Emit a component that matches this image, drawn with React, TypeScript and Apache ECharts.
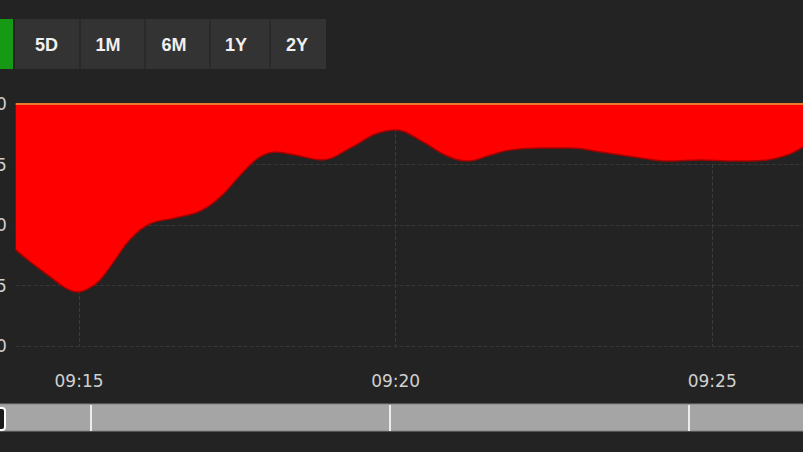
import React, { useEffect, useRef } from "react";
import * as echarts from "echarts";

// intraday samples (time, price)
const times = [
  "09:14:00", "09:14:14", "09:14:33", "09:14:47", "09:14:59", "09:15:10", "09:15:20",
  "09:15:34", "09:15:48", "09:16:07", "09:16:31", "09:16:55", "09:17:14", "09:17:33",
  "09:17:50", "09:18:06", "09:18:25", "09:18:50", "09:19:17", "09:19:41", "09:20:00",
  "09:20:23", "09:20:47", "09:21:08", "09:21:30", "09:21:49", "09:22:17", "09:22:46",
  "09:23:14", "09:23:52", "09:24:17", "09:24:49", "09:25:20", "09:25:52", "09:26:11",
  "09:26:26",
];
const prices = [
  0.397, 0.347, 0.285, 0.240, 0.223, 0.240, 0.273,
  0.355, 0.438, 0.504, 0.529, 0.558, 0.616, 0.707,
  0.777, 0.802, 0.789, 0.769, 0.818, 0.876, 0.893,
  0.851, 0.789, 0.764, 0.789, 0.810, 0.818, 0.818,
  0.802, 0.777, 0.764, 0.769, 0.764, 0.769, 0.789,
  0.822,
];
const prevClose = 1.0;
const yMin = 0;
const yMax = 1.0;
const yStep = 0.25;
const xStart = "09:14:00";
const xEnd = "09:26:26";
const xTickLabels = ["09:15", "09:20", "09:25"];
const rangeButtons = ["5D", "1M", "6M", "1Y", "2Y"];

const toMin = (t: string) => {
  const [h, m, s] = t.split(":").map(Number);
  return (h - 9) * 60 + m + (s || 0) / 60;
};

export default function App() {
  const ref = useRef<HTMLDivElement>(null);
  useEffect(() => {
    if (!ref.current) return;
    const chart = echarts.init(ref.current, undefined, { renderer: "svg" });
    const xTicks = xTickLabels.map(toMin);
    const btnCenters = [46.5, 108, 174, 236, 297];
    const seps = [80, 145, 210, 270];
    const navLines = [91, 390, 689];
    const graphic: any[] = [
      { type: "rect", shape: { x: 0, y: 19, width: 13, height: 50 }, style: { fill: "#169a16" } },
      { type: "rect", shape: { x: 15, y: 19, width: 311, height: 50 }, style: { fill: "#333333" } },
      ...seps.map((x) => ({
        type: "line",
        shape: { x1: x, y1: 19, x2: x, y2: 69 },
        style: { stroke: "#2a2a2a", lineWidth: 2 },
      })),
      ...rangeButtons.map((b, i) => ({
        type: "text",
        x: btnCenters[i],
        y: 45,
        style: {
          text: b,
          fill: "#f0f0f0",
          font: "bold 18px 'Liberation Sans', Arial, sans-serif",
          textAlign: "center",
          textVerticalAlign: "middle",
        },
      })),
      { type: "rect", shape: { x: -1, y: 404, width: 805, height: 27 }, style: { fill: "#a5a5a5", stroke: "#858585", lineWidth: 1 } },
      ...navLines.map((x) => ({
        type: "line",
        shape: { x1: x, y1: 405, x2: x, y2: 431 },
        style: { stroke: "#ececec", lineWidth: 2 },
      })),
      { type: "rect", shape: { x: -5, y: 408, width: 10, height: 22, r: 3 }, style: { fill: "#1a1a1a", stroke: "#ffffff", lineWidth: 2 } },
    ];
    chart.setOption({
      animation: false,
      backgroundColor: "#232323",
      grid: { left: 15.7, right: 0, top: 104, bottom: 106, containLabel: false, outerBoundsMode: "none" },
      xAxis: {
        type: "value",
        min: toMin(xStart),
        max: toMin(xEnd),
        axisLine: { show: false },
        axisTick: { show: false, customValues: xTicks },
        axisLabel: {
          customValues: xTicks,
          formatter: (v: number) => {
            const m = Math.round(v);
            return `09:${String(m).padStart(2, "0")}`;
          },
          color: "#d0d0d0",
          fontSize: 17,
          fontFamily: "DejaVu Sans",
          margin: 26,
        },
        splitLine: { show: true, lineStyle: { color: "#3a3a3a", type: "dashed", width: 1 } },
      },
      yAxis: {
        type: "value",
        min: yMin,
        max: yMax,
        interval: yStep,
        axisLine: { show: false },
        axisTick: { show: false },
        axisLabel: {
          formatter: (v: number) => v.toFixed(2),
          color: "#d0d0d0",
          fontSize: 17,
          fontFamily: "DejaVu Sans",
          margin: 9,
        },
        splitLine: { show: true, lineStyle: { color: "#363636", type: "dashed", width: 1 } },
      },
      series: [
        {
          type: "line",
          data: times.map((t, i) => [toMin(t), prices[i]]),
          smooth: 0.4,
          symbol: "none",
          lineStyle: { color: "#a80000", width: 1.5 },
          areaStyle: { color: "#ff0000", opacity: 1, origin: "end" },
          z: 3,
          markLine: {
            silent: true,
            symbol: "none",
            label: { show: false },
            lineStyle: { color: "#e87a2a", width: 2, type: "solid" },
            data: [{ yAxis: prevClose }],
          },
        },
      ],
      graphic,
    });
    return () => chart.dispose();
  }, []);
  return (
    <div
      ref={ref}
      style={{ position: "fixed", left: 0, top: 0, width: 803, height: 452 }}
    />
  );
}
